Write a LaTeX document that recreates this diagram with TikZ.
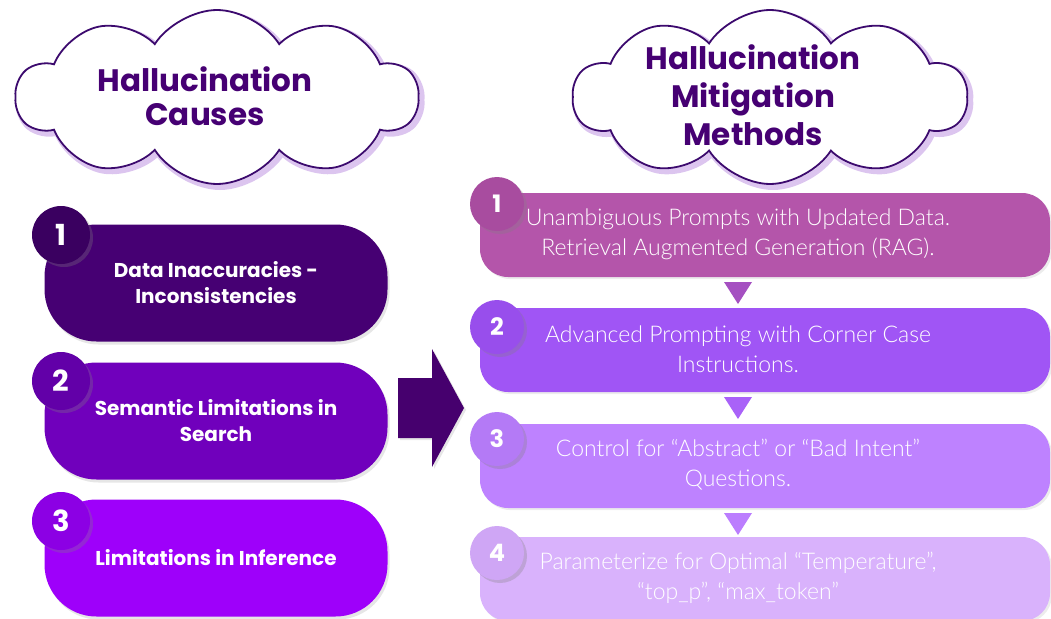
\documentclass[tikz,border=0pt]{standalone}
\usepackage{fontspec}
\setmainfont{Poppins}
\newfontfamily\lightfont{Lato Light}
\usetikzlibrary{shapes.symbols,shadows}

\definecolor{cloudline}{HTML}{3C0A6E}
\definecolor{cloudglow}{HTML}{B98CE0}
\definecolor{headtext}{HTML}{460073}
\definecolor{causeA}{HTML}{460073}
\definecolor{causeB}{HTML}{7000BC}
\definecolor{causeC}{HTML}{9E00FA}
\definecolor{causenumA}{HTML}{3A0060}
\definecolor{causenumB}{HTML}{6200A8}
\definecolor{causenumC}{HTML}{8C00E4}
\definecolor{fixA}{HTML}{B455AA}
\definecolor{fixB}{HTML}{A055F5}
\definecolor{fixC}{HTML}{BE82FF}
\definecolor{fixD}{HTML}{D9B2FC}
\definecolor{fixnumA}{HTML}{A84C9F}
\definecolor{fixnumB}{HTML}{984EEC}
\definecolor{fixnumC}{HTML}{B47AF6}
\definecolor{fixnumD}{HTML}{CFA6F5}
\definecolor{bigarrow}{HTML}{46006E}

\tikzset{
  cloudbox/.style={cloud, cloud puffs=10, cloud puff arc=115, aspect=2.3, inner sep=0pt},
  causebox/.style={rectangle, rounded corners=52pt, minimum width=343pt, minimum height=117pt,
    text=white, align=center, font=\fontsize{20}{26}\selectfont\bfseries,
    drop shadow={opacity=0.2, shadow xshift=2pt, shadow yshift=-3pt}},
  causenum/.style={circle, minimum size=58pt, inner sep=0pt, text=white,
    font=\fontsize{29}{29}\selectfont\bfseries,
    drop shadow={opacity=0.3, shadow xshift=3pt, shadow yshift=-3pt}},
  fixbox/.style={rectangle, rounded corners=28pt, minimum width=570pt, minimum height=84pt,
    drop shadow={opacity=0.15, shadow xshift=2pt, shadow yshift=-2pt}},
  fixtext/.style={text=white, align=center, font=\lightfont\fontsize{23}{30}\selectfont},
  fixnum/.style={circle, minimum size=54pt, inner sep=0pt, text=white,
    font=\fontsize{24}{24}\selectfont\bfseries,
    drop shadow={opacity=0.3, shadow xshift=3pt, shadow yshift=-3pt}}
}

\begin{document}
\begin{tikzpicture}[x=1pt, y=-1pt]
\useasboundingbox (0,0) rectangle (1051,618);

% Clouds with the two headings
\node[cloudbox, minimum width=402pt, minimum height=174pt, draw=cloudglow, line width=6pt, opacity=0.5] (cloudCglow) at (220,100) {};
\node[cloudbox, minimum width=402pt, minimum height=174pt, draw=cloudline, line width=1.8pt, fill=white] (cloudC) at (217,97) {};
\node[text=headtext, align=center, font=\fontsize{31}{34}\selectfont\bfseries] (headC) at (205,96) {Hallucination\\Causes};
\node[cloudbox, minimum width=394pt, minimum height=174pt, draw=cloudglow, line width=6pt, opacity=0.5] (cloudMglow) at (773,100) {};
\node[cloudbox, minimum width=394pt, minimum height=174pt, draw=cloudline, line width=1.8pt, fill=white] (cloudM) at (770,97) {};
\node[text=headtext, align=center, font=\fontsize{31}{38}\selectfont\bfseries] (headM) at (753,95) {Hallucination\\Mitigation\\Methods};

% Causes on the left
\node[causebox, fill=causeA] (cause1) at (216,283) {Data Inaccuracies -\\Inconsistencies};
\node[causenum, fill=causenumA] (causenum1) at (61,235) {1};
\node[causebox, fill=causeB] (cause2) at (216,421) {Semantic Limitations in\\Search};
\node[causenum, fill=causenumB] (causenum2) at (61,381) {2};
\node[causebox, fill=causeC] (cause3) at (216,558) {Limitations in Inference};
\node[causenum, fill=causenumC] (causenum3) at (61,521) {3};

% Big arrow in the middle
\fill[bigarrow, drop shadow={opacity=0.2, shadow xshift=2pt, shadow yshift=-2pt}] (398,378) -- (432,378) -- (432,349) -- (464,408) -- (432,467) -- (432,438) -- (398,438) -- cycle;

% Mitigation methods on the right
\node[fixbox, fill=fixA] (fix1) at (765,235) {};
\node[fixtext] (fixtext1) at (738,234) {Unambiguous Prompts with Updated Data.\\Retrieval Augmented Generation (RAG).};
\node[fixnum, fill=fixnumA] (fixnum1) at (497,204) {1};
\node[fixbox, fill=fixB] (fix2) at (765,350) {};
\node[fixtext] (fixtext2) at (738,349) {Advanced Prompting with Corner Case\\Instructions.};
\node[fixnum, fill=fixnumB] (fixnum2) at (497,327) {2};
\node[fixbox, fill=fixC] (fix3) at (765,466) {};
\node[fixtext] (fixtext3) at (738,465) {Control for “Abstract” or “Bad Intent”\\Questions.};
\node[fixnum, fill=fixnumC] (fixnum3) at (497,439) {3};
\node[fixbox, fill=fixD] (fix4) at (765,579) {};
\node[fixtext] (fixtext4) at (738,578) {Parameterize for Optimal “Temperature”,\\“top\_p”, “max\_token”};
\node[fixnum, fill=fixnumD] (fixnum4) at (497,553) {4};

% Small triangles between the methods
\fill[fixnumA!60!fixB] (724,282) -- (752,282) -- (738,304) -- cycle;
\fill[fixB!70!fixC] (724,397) -- (752,397) -- (738,419) -- cycle;
\fill[fixC!90!fixB] (724,513) -- (752,513) -- (738,535) -- cycle;
\end{tikzpicture}
\end{document}
